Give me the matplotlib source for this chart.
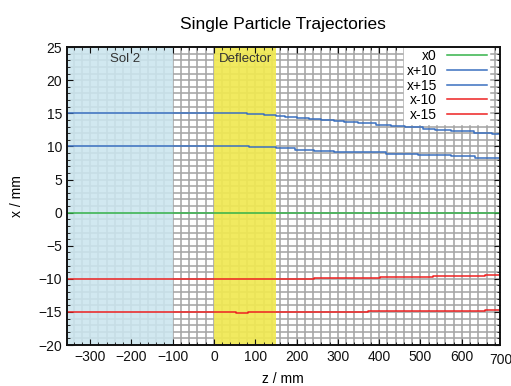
import numpy as np
import matplotlib
matplotlib.use('Agg')
from matplotlib import pyplot as plt

plt.rcParams['font.family'] = ['Liberation Sans', 'DejaVu Sans']

# step trajectories: z positions where the value changes, and the value from there on
z_x0 = [-360, 700]
v_x0 = [0.0, 0.0]

z_p10 = [-360, 84, 151, 197, 242, 291, 340, 417, 494, 575, 632]
v_p10 = [10.0, 9.9, 9.7, 9.5, 9.35, 9.2, 9.1, 8.9, 8.7, 8.5, 8.3]

z_p15 = [-360, 80, 120, 151, 173, 202, 230, 259, 291, 315, 348, 393, 429, 462, 507, 535, 575, 629, 673, 694]
v_p15 = [15.0, 14.9, 14.8, 14.6, 14.4, 14.25, 14.1, 14.0, 13.8, 13.65, 13.5, 13.3, 13.1, 12.9, 12.7, 12.5, 12.3, 12.1, 11.9, 11.75]

z_m10 = [-360, 242, 401, 531, 657]
v_m10 = [-10.0, -9.9, -9.75, -9.6, -9.4]

z_m15 = [-360, 54, 82, 374, 450, 657]
v_m15 = [-15.0, -15.1, -15.0, -14.9, -14.8, -14.65]

labels = ['x0', 'x+10', 'x+15', 'x-10', 'x-15']
colors = ['#35b34a', '#3b70c0', '#3b70c0', '#ee2222', '#ee2222']
xticks = [-300, -200, -100, 0, 100, 200, 300, 400, 500, 600, 700]
yticks = [-20, -15, -10, -5, 0, 5, 10, 15, 20, 25]

fig = plt.figure(figsize=(5.11, 3.86), dpi=100)
ax = fig.add_axes([0.131, 0.106, 0.847, 0.772])

# grid
for gx in np.arange(-340, 700, 20):
    ax.axvline(gx, color='#a5a5a5', lw=1.15, zorder=0)
for gy in np.arange(-19, 25, 1):
    ax.axhline(gy, color='#a5a5a5', lw=1.15, zorder=0)

# regions
ax.axvspan(-360, -100, color='#cbe5ee', alpha=0.88, lw=0, zorder=1)
ax.axvspan(0, 150, color='#f0e952', alpha=0.92, lw=0, zorder=1)
ax.text(-215, 23.2, 'Sol 2', ha='center', va='center', fontsize=9.5, color='#333333', zorder=2)
ax.text(75, 23.2, 'Deflector', ha='center', va='center', fontsize=9.5, color='#333333', zorder=2)

series = [(z_x0, v_x0), (z_p10, v_p10), (z_p15, v_p15), (z_m10, v_m10), (z_m15, v_m15)]
for (zz, vv), lab, c in zip(series, labels, colors):
    zz = list(zz) + [700]
    vv = list(vv) + [vv[-1]]
    ax.plot(zz, vv, drawstyle='steps-post', color=c, lw=1.1, label=lab, zorder=3)

ax.set_xlim(-356, 692)
ax.set_ylim(-20, 25)
ax.set_xticks(xticks[:-1])
ax.set_yticks(yticks)
ax.set_xticks(np.arange(-340, 700, 20), minor=True)
ax.set_yticks(np.arange(-20, 25, 1), minor=True)
ax.tick_params(which='both', direction='in', top=True, right=True, labelsize=10, colors='#111111')
ax.tick_params(which='major', length=4)
ax.tick_params(which='minor', length=2)
# last tick label sits at the right edge
ax.text(694, -0.025, '700', transform=ax.get_xaxis_transform(), ha='center', va='top',
        fontsize=10, color='#111111', clip_on=False)
for s in ax.spines.values():
    s.set_linewidth(1.4)
    s.set_color('#111111')
    s.set_zorder(5)

ax.set_xlabel('z / mm', fontsize=10, labelpad=6)
ax.set_ylabel('x / mm', fontsize=10, labelpad=10)
ax.set_title('Single Particle Trajectories', fontsize=12.5, pad=13)

leg = ax.legend(loc='upper right', bbox_to_anchor=(0.975, 1.0), markerfirst=False, frameon=True,
                fancybox=False, edgecolor='white', framealpha=1, fontsize=10, handlelength=2.9,
                labelspacing=0.05, borderpad=0.15, handletextpad=0.7, borderaxespad=0.0)
for t in leg.get_texts():
    t.set_ha('right')
leg.set_zorder(4)

plt.savefig('out.png', dpi=100)
